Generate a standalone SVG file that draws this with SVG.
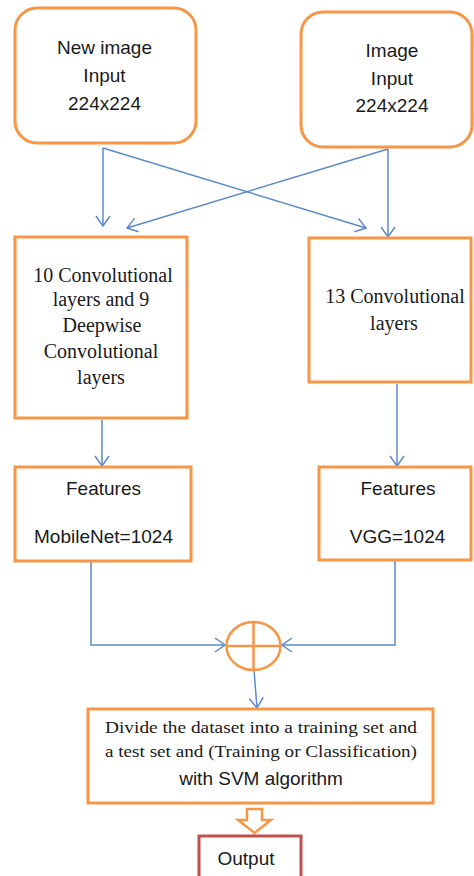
<svg xmlns="http://www.w3.org/2000/svg" width="474" height="876" viewBox="0 0 474 876">
<style>
.box{fill:#fff;stroke:#F79646;stroke-width:3}
.out{fill:#fff;stroke:#C0504D;stroke-width:3}
.sans{font-family:"Liberation Sans",Arial,sans-serif;font-size:19px;fill:#1a1a1a;text-anchor:middle}
.serif{font-family:"Liberation Serif","Times New Roman",serif;font-size:20px;fill:#1a1a1a;text-anchor:middle}
.ln{fill:none;stroke:#5B8AC6;stroke-width:1.5}
</style>
<defs>
<marker id="ah" markerUnits="userSpaceOnUse" markerWidth="14" markerHeight="16" refX="11" refY="8" orient="auto">
<path d="M1,1 L11,8 L1,15" fill="none" stroke="#5B8AC6" stroke-width="1.5"/>
</marker>
</defs>
<rect width="474" height="876" fill="#fff"/>
<g id="connectors">
<line class="ln" x1="103" y1="148" x2="103" y2="226" marker-end="url(#ah)"/>
<line class="ln" x1="103" y1="148" x2="366" y2="228" marker-end="url(#ah)"/>
<line class="ln" x1="388" y1="149" x2="388" y2="237" marker-end="url(#ah)"/>
<line class="ln" x1="388" y1="149" x2="127" y2="228" marker-end="url(#ah)"/>
<line class="ln" x1="102" y1="420" x2="102" y2="466" marker-end="url(#ah)"/>
<line class="ln" x1="397" y1="384" x2="397" y2="466" marker-end="url(#ah)"/>
<polyline class="ln" points="91,562 91,645 225,645" marker-end="url(#ah)"/>
<polyline class="ln" points="395,561 395,645 282,645" marker-end="url(#ah)"/>
<line class="ln" x1="254" y1="670" x2="257" y2="708" marker-end="url(#ah)"/>
<path d="M247,809 L262,809 L262,820 L271,820 L254.5,833 L238,820 L247,820 Z" fill="#fff" stroke="#F79646" stroke-width="2.5"/>
</g>
<g id="new-image">
<rect class="box" x="15" y="8" width="181" height="135" rx="22"/>
<text class="sans" x="104.5" y="54">New image</text>
<text class="sans" x="104.5" y="82">Input</text>
<text class="sans" x="104.5" y="110">224x224</text>
</g>
<g id="image">
<rect class="box" x="301" y="12" width="171" height="135" rx="22"/>
<text class="sans" x="392" y="57">Image</text>
<text class="sans" x="392" y="85">Input</text>
<text class="sans" x="392" y="112">224x224</text>
</g>
<g id="mobilenet-layers">
<rect class="box" x="15" y="237" width="172" height="181"/>
<text class="serif" x="103" y="282">10 Convolutional</text>
<text class="serif" x="101" y="306">layers and 9</text>
<text class="serif" x="102" y="332">Deepwise</text>
<text class="serif" x="101" y="358">Convolutional</text>
<text class="serif" x="101" y="384">layers</text>
</g>
<g id="vgg-layers">
<rect class="box" x="309" y="238" width="162" height="144"/>
<text class="serif" x="395" y="303">13 Convolutional</text>
<text class="serif" x="394" y="330">layers</text>
</g>
<g id="features-mobilenet">
<rect class="box" x="15" y="467" width="176" height="94"/>
<text class="sans" x="103.5" y="495">Features</text>
<text class="sans" x="103.5" y="543">MobileNet=1024</text>
</g>
<g id="features-vgg">
<rect class="box" x="319" y="467" width="152" height="93"/>
<text class="sans" x="398" y="495">Features</text>
<text class="sans" x="397.5" y="543">VGG=1024</text>
</g>
<g id="concat">
<ellipse cx="253.5" cy="646" rx="27" ry="24" fill="#fff" stroke="#F79646" stroke-width="2.5"/>
<line x1="253.5" y1="622" x2="253.5" y2="670" stroke="#F79646" stroke-width="2.5"/>
<line x1="226.5" y1="646" x2="280.5" y2="646" stroke="#F79646" stroke-width="2.5"/>
</g>
<g id="svm">
<rect class="box" x="88" y="709" width="345" height="94"/>
<text class="serif" x="261" y="733" style="font-size:17px" textLength="312" lengthAdjust="spacingAndGlyphs">Divide the dataset into a training set and</text>
<text class="serif" x="261" y="757" style="font-size:17px" textLength="312" lengthAdjust="spacingAndGlyphs">a test set and (Training or Classification)</text>
<text class="sans" x="261" y="785" style="font-size:19px">with SVM algorithm</text>
</g>
<g id="output">
<rect class="out" x="199" y="836" width="102" height="50"/>
<text class="sans" x="246" y="865" style="font-size:19px">Output</text>
</g>
</svg>
